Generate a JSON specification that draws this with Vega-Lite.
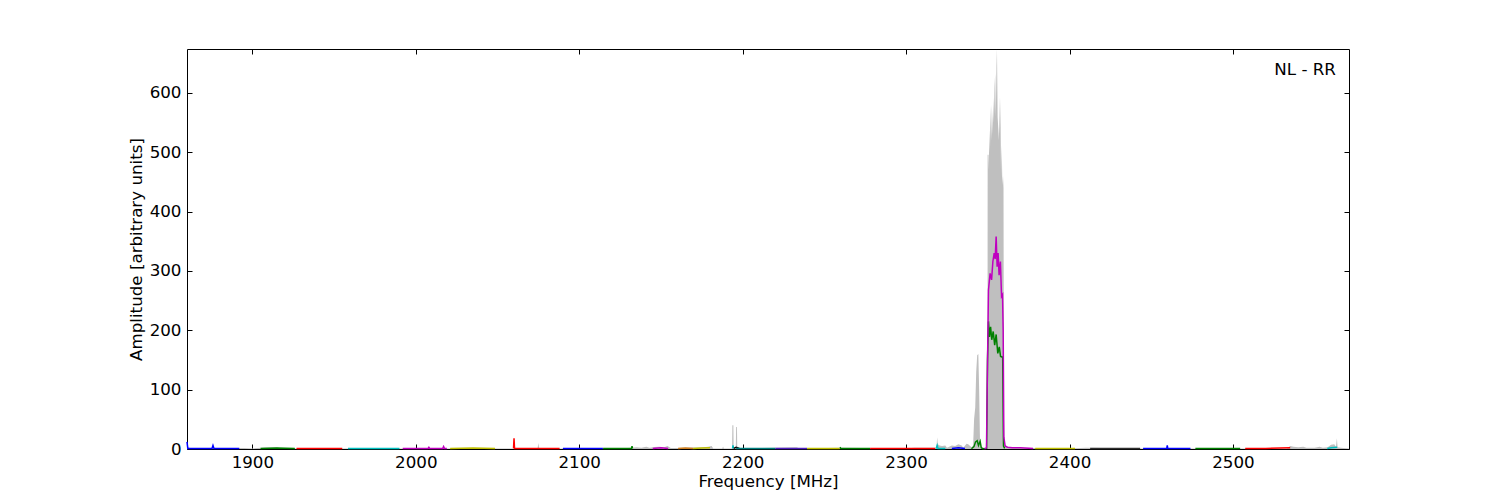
{
  "$schema": "https://vega.github.io/schema/vega-lite/v6.json",
  "autosize": "none",
  "width": 1162,
  "height": 400,
  "padding": {"left": 187, "top": 49, "right": 151, "bottom": 51},
  "background": "white",
  "config": {
    "view": {"stroke": "black", "strokeWidth": 1},
    "font": "DejaVu Sans",
    "axis": {
      "grid": false,
      "domain": false,
      "tickColor": "black",
      "tickSize": -5,
      "tickWidth": 1
    }
  },
  "datasets": {
    "grey": [
      {"f": 1860, "v": 3}, {"f": 1862, "v": 1.5}, {"f": 1895, "v": 1.5}, {"f": 1900, "v": 1}, {"f": 1908, "v": 2.5}, {"f": 1915, "v": 2.5}, {"f": 1918, "v": 1},
      {"f": 1960, "v": 1}, {"f": 2000, "v": 1}, {"f": 2050, "v": 1}, {"f": 2060, "v": 1}, {"f": 2074.5, "v": 1}, {"f": 2075, "v": 10}, {"f": 2075.5, "v": 1},
      {"f": 2100, "v": 1}, {"f": 2125, "v": 1}, {"f": 2132, "v": 2}, {"f": 2135, "v": 3}, {"f": 2138, "v": 2}, {"f": 2141, "v": 4}, {"f": 2143, "v": 2},
      {"f": 2146, "v": 3.5}, {"f": 2149, "v": 4}, {"f": 2152, "v": 3}, {"f": 2154, "v": 5}, {"f": 2156, "v": 1.5}, {"f": 2160, "v": 1.5}, {"f": 2164, "v": 2},
      {"f": 2168, "v": 2.5}, {"f": 2172, "v": 2.5}, {"f": 2176, "v": 3}, {"f": 2179, "v": 4}, {"f": 2181, "v": 5}, {"f": 2182, "v": 1},
      {"f": 2187.5, "v": 1}, {"f": 2188, "v": 4}, {"f": 2188.5, "v": 1}, {"f": 2193.5, "v": 1}, {"f": 2193.7, "v": 40}, {"f": 2194.3, "v": 40}, {"f": 2194.5, "v": 1},
      {"f": 2195.8, "v": 1}, {"f": 2196, "v": 37}, {"f": 2196.5, "v": 37}, {"f": 2196.7, "v": 1}, {"f": 2200, "v": 1}, {"f": 2233, "v": 3}, {"f": 2235, "v": 1},
      {"f": 2260, "v": 2}, {"f": 2300, "v": 1}, {"f": 2305, "v": 2}, {"f": 2310, "v": 2}, {"f": 2318.6, "v": 2}, {"f": 2319, "v": 20}, {"f": 2319.4, "v": 8},
      {"f": 2320.5, "v": 6}, {"f": 2322, "v": 5}, {"f": 2324, "v": 6}, {"f": 2325, "v": 2}, {"f": 2328, "v": 6}, {"f": 2330, "v": 5}, {"f": 2332, "v": 8},
      {"f": 2334, "v": 6}, {"f": 2335, "v": 2}, {"f": 2337, "v": 9}, {"f": 2338, "v": 8}, {"f": 2340, "v": 3}, {"f": 2341, "v": 5}, {"f": 2341.6, "v": 50},
      {"f": 2342.3, "v": 70}, {"f": 2342.9, "v": 130}, {"f": 2343.5, "v": 158}, {"f": 2344.2, "v": 160}, {"f": 2344.7, "v": 100}, {"f": 2345.2, "v": 15},
      {"f": 2346, "v": 3}, {"f": 2349, "v": 1.5}, {"f": 2349.8, "v": 1}, {"f": 2349.9, "v": 496}, {"f": 2350.4, "v": 496}, {"f": 2350.6, "v": 470}, {"f": 2350.9, "v": 538},
      {"f": 2351.3, "v": 500}, {"f": 2351.7, "v": 578}, {"f": 2352.1, "v": 520}, {"f": 2352.5, "v": 580}, {"f": 2352.9, "v": 530}, {"f": 2353.3, "v": 592},
      {"f": 2353.7, "v": 550}, {"f": 2354.1, "v": 610}, {"f": 2354.5, "v": 632}, {"f": 2354.9, "v": 560}, {"f": 2355.3, "v": 645}, {"f": 2355.6, "v": 674},
      {"f": 2356.0, "v": 560}, {"f": 2356.4, "v": 540}, {"f": 2356.8, "v": 520}, {"f": 2357.1, "v": 595}, {"f": 2357.4, "v": 530}, {"f": 2357.7, "v": 592},
      {"f": 2358.1, "v": 460}, {"f": 2358.5, "v": 512}, {"f": 2358.9, "v": 445}, {"f": 2359.3, "v": 460}, {"f": 2359.6, "v": 440}, {"f": 2359.9, "v": 20},
      {"f": 2360.6, "v": 6}, {"f": 2362, "v": 4}, {"f": 2365, "v": 2}, {"f": 2380, "v": 1.5}, {"f": 2400, "v": 1}, {"f": 2410, "v": 2}, {"f": 2440, "v": 1},
      {"f": 2500, "v": 1}, {"f": 2533, "v": 1}, {"f": 2535, "v": 5}, {"f": 2537, "v": 4}, {"f": 2540, "v": 3}, {"f": 2543, "v": 4}, {"f": 2545, "v": 2},
      {"f": 2550, "v": 2}, {"f": 2553, "v": 4}, {"f": 2555, "v": 2}, {"f": 2558, "v": 3}, {"f": 2560, "v": 7}, {"f": 2562, "v": 8}, {"f": 2563, "v": 4},
      {"f": 2563.6, "v": 18}, {"f": 2564, "v": 3}, {"f": 2566, "v": 2}, {"f": 2571, "v": 1}
    ],
    "lines": [
      {"seg": "s01", "f": 1860, "v": 12}, {"seg": "s01", "f": 1860.5, "v": 1}, {"seg": "s01", "f": 1868, "v": 1}, {"seg": "s01", "f": 1875.3, "v": 1}, {"seg": "s01", "f": 1875.9, "v": 6}, {"seg": "s01", "f": 1876.5, "v": 1}, {"seg": "s01", "f": 1885, "v": 1}, {"seg": "s01", "f": 1892, "v": 1},
      {"seg": "s02", "f": 1905, "v": 1}, {"seg": "s02", "f": 1915, "v": 1.5}, {"seg": "s02", "f": 1926, "v": 1},
      {"seg": "s03", "f": 1927, "v": 1}, {"seg": "s03", "f": 1940, "v": 1}, {"seg": "s03", "f": 1955, "v": 1},
      {"seg": "s04", "f": 1958.5, "v": 1}, {"seg": "s04", "f": 1975, "v": 1}, {"seg": "s04", "f": 1990, "v": 1},
      {"seg": "s05", "f": 1992, "v": 1}, {"seg": "s05", "f": 2007.5, "v": 1}, {"seg": "s05", "f": 2008, "v": 3}, {"seg": "s05", "f": 2008.5, "v": 1}, {"seg": "s05", "f": 2016.5, "v": 1}, {"seg": "s05", "f": 2017, "v": 4}, {"seg": "s05", "f": 2017.5, "v": 1}, {"seg": "s05", "f": 2019, "v": 1},
      {"seg": "s06", "f": 2021, "v": 1}, {"seg": "s06", "f": 2035, "v": 1.5}, {"seg": "s06", "f": 2048.5, "v": 1},
      {"seg": "s07", "f": 2059.8, "v": 1}, {"seg": "s07", "f": 2060.1, "v": 18}, {"seg": "s07", "f": 2060.4, "v": 1}, {"seg": "s07", "f": 2075, "v": 1}, {"seg": "s07", "f": 2088, "v": 1},
      {"seg": "s08", "f": 2090, "v": 1}, {"seg": "s08", "f": 2100, "v": 1}, {"seg": "s08", "f": 2114.5, "v": 1},
      {"seg": "s09", "f": 2114.6, "v": 1}, {"seg": "s09", "f": 2125, "v": 1}, {"seg": "s09", "f": 2132, "v": 1}, {"seg": "s09", "f": 2132.3, "v": 5}, {"seg": "s09", "f": 2132.6, "v": 1},
      {"seg": "s10", "f": 2145, "v": 1}, {"seg": "s10", "f": 2150, "v": 2}, {"seg": "s10", "f": 2154.4, "v": 1},
      {"seg": "s11", "f": 2160.5, "v": 1}, {"seg": "s11", "f": 2165, "v": 1.5}, {"seg": "s11", "f": 2169.7, "v": 1},
      {"seg": "s12", "f": 2169.7, "v": 1}, {"seg": "s12", "f": 2175, "v": 1.5}, {"seg": "s12", "f": 2180, "v": 2},
      {"seg": "s13", "f": 2193.8, "v": 1}, {"seg": "s13", "f": 2194.1, "v": 6}, {"seg": "s13", "f": 2194.4, "v": 1},
      {"seg": "s14", "f": 2194.5, "v": 1}, {"seg": "s14", "f": 2196, "v": 3}, {"seg": "s14", "f": 2198, "v": 1},
      {"seg": "s15", "f": 2196, "v": 1}, {"seg": "s15", "f": 2208, "v": 1}, {"seg": "s15", "f": 2220, "v": 1},
      {"seg": "s16", "f": 2220, "v": 1}, {"seg": "s16", "f": 2230, "v": 1}, {"seg": "s16", "f": 2239.4, "v": 1},
      {"seg": "s17", "f": 2239.4, "v": 1}, {"seg": "s17", "f": 2250, "v": 1}, {"seg": "s17", "f": 2259.4, "v": 1},
      {"seg": "s18", "f": 2259.6, "v": 3}, {"seg": "s18", "f": 2260, "v": 1}, {"seg": "s18", "f": 2270, "v": 1}, {"seg": "s18", "f": 2278, "v": 1},
      {"seg": "s19", "f": 2278, "v": 1}, {"seg": "s19", "f": 2295, "v": 1}, {"seg": "s19", "f": 2317.8, "v": 1},
      {"seg": "s20", "f": 2318.4, "v": 1}, {"seg": "s20", "f": 2319, "v": 6}, {"seg": "s20", "f": 2319.5, "v": 1}, {"seg": "s20", "f": 2324, "v": 1},
      {"seg": "s21", "f": 2328, "v": 1}, {"seg": "s21", "f": 2332, "v": 2}, {"seg": "s21", "f": 2336, "v": 1},
      {"seg": "s22", "f": 2340, "v": 0.5}, {"seg": "s22", "f": 2341.5, "v": 4}, {"seg": "s22", "f": 2342.5, "v": 12}, {"seg": "s22", "f": 2343.5, "v": 14}, {"seg": "s22", "f": 2344.3, "v": 6}, {"seg": "s22", "f": 2345.3, "v": 13}, {"seg": "s22", "f": 2346, "v": 2}, {"seg": "s22", "f": 2347, "v": 0.5}, {"seg": "s22", "f": 2349.3, "v": 1}, {"seg": "s22", "f": 2349.8, "v": 150}, {"seg": "s22", "f": 2350.4, "v": 215}, {"seg": "s22", "f": 2351, "v": 189}, {"seg": "s22", "f": 2351.7, "v": 206}, {"seg": "s22", "f": 2352.4, "v": 184}, {"seg": "s22", "f": 2353.3, "v": 198}, {"seg": "s22", "f": 2354.2, "v": 175}, {"seg": "s22", "f": 2355.1, "v": 193}, {"seg": "s22", "f": 2356.1, "v": 161}, {"seg": "s22", "f": 2357, "v": 172}, {"seg": "s22", "f": 2357.8, "v": 156}, {"seg": "s22", "f": 2358.6, "v": 155}, {"seg": "s22", "f": 2359.1, "v": 155}, {"seg": "s22", "f": 2359.6, "v": 5}, {"seg": "s22", "f": 2360.3, "v": 1},
      {"seg": "s23", "f": 2348, "v": 0.5}, {"seg": "s23", "f": 2349.2, "v": 2}, {"seg": "s23", "f": 2349.6, "v": 100}, {"seg": "s23", "f": 2350.4, "v": 268}, {"seg": "s23", "f": 2351.4, "v": 296}, {"seg": "s23", "f": 2352.3, "v": 285}, {"seg": "s23", "f": 2353.1, "v": 316}, {"seg": "s23", "f": 2353.9, "v": 330}, {"seg": "s23", "f": 2354.5, "v": 320}, {"seg": "s23", "f": 2355.1, "v": 358}, {"seg": "s23", "f": 2355.7, "v": 307}, {"seg": "s23", "f": 2356.3, "v": 330}, {"seg": "s23", "f": 2356.9, "v": 293}, {"seg": "s23", "f": 2357.7, "v": 316}, {"seg": "s23", "f": 2358.4, "v": 257}, {"seg": "s23", "f": 2359, "v": 260}, {"seg": "s23", "f": 2359.4, "v": 200}, {"seg": "s23", "f": 2359.8, "v": 20}, {"seg": "s23", "f": 2360.6, "v": 5}, {"seg": "s23", "f": 2362, "v": 3}, {"seg": "s23", "f": 2365, "v": 2}, {"seg": "s23", "f": 2370, "v": 2}, {"seg": "s23", "f": 2377.7, "v": 1},
      {"seg": "s24", "f": 2379, "v": 1}, {"seg": "s24", "f": 2390, "v": 1}, {"seg": "s24", "f": 2403.4, "v": 1},
      {"seg": "s25", "f": 2412.6, "v": 1}, {"seg": "s25", "f": 2428, "v": 1}, {"seg": "s25", "f": 2443.2, "v": 1},
      {"seg": "s26", "f": 2445, "v": 1}, {"seg": "s26", "f": 2459.5, "v": 1}, {"seg": "s26", "f": 2459.8, "v": 6}, {"seg": "s26", "f": 2460.1, "v": 1}, {"seg": "s26", "f": 2474, "v": 1},
      {"seg": "s27", "f": 2477, "v": 1}, {"seg": "s27", "f": 2490, "v": 1}, {"seg": "s27", "f": 2504.4, "v": 1},
      {"seg": "s28", "f": 2507.5, "v": 1}, {"seg": "s28", "f": 2520, "v": 1}, {"seg": "s28", "f": 2535, "v": 2},
      {"seg": "s29", "f": 2557.7, "v": 1}, {"seg": "s29", "f": 2560, "v": 2}, {"seg": "s29", "f": 2563.8, "v": 3}
    ]
  },
  "resolve": {"axis": {"x": "independent", "y": "independent"}},
  "layer": [
    {
      "data": {"name": "grey"},
      "mark": {"type": "area", "color": "#bfbfbf", "interpolate": "linear"},
      "encoding": {
        "x": {
          "field": "f", "type": "quantitative",
          "scale": {"domain": [1860, 2571], "nice": false, "zero": false},
          "axis": {"orient": "bottom", "title": "Frequency [MHz]", "format": "d", "values": [1900, 2000, 2100, 2200, 2300, 2400, 2500], "labelPadding": 10, "titlePadding": 3,
                   "labelFont": "DejaVu Sans", "labelFontSize": 16.7, "labelColor": "black", "titleFont": "DejaVu Sans", "titleFontSize": 16.7, "titleFontWeight": "normal", "titleColor": "black"}
        },
        "y": {
          "field": "v", "type": "quantitative",
          "scale": {"domain": [0, 674], "nice": false},
          "axis": {"orient": "left", "title": "Amplitude [arbitrary units]", "format": "d", "values": [0, 100, 200, 300, 400, 500, 600], "labelPadding": 11, "titlePadding": 4,
                   "labelFont": "DejaVu Sans", "labelFontSize": 16.7, "labelColor": "black", "titleFont": "DejaVu Sans", "titleFontSize": 16.7, "titleFontWeight": "normal", "titleColor": "black"}
        }
      }
    },
    {
      "data": {"name": "lines"},
      "mark": {"type": "line", "strokeWidth": 1.5, "interpolate": "linear"},
      "encoding": {
        "x": {"field": "f", "type": "quantitative", "axis": {"orient": "top", "labels": false, "title": null, "values": [1900, 2000, 2100, 2200, 2300, 2400, 2500]}},
        "y": {"field": "v", "type": "quantitative", "axis": {"orient": "right", "labels": false, "title": null, "values": [0, 100, 200, 300, 400, 500, 600]}},
        "color": {
          "field": "seg", "type": "nominal", "legend": null,
          "scale": {
            "domain": ["s01","s02","s03","s04","s05","s06","s07","s08","s09","s10","s11","s12","s13","s14","s15","s16","s17","s18","s19","s20","s21","s22","s23","s24","s25","s26","s27","s28","s29"],
            "range": ["#0000ff","#008000","#ff0000","#00bfbf","#bf00bf","#bfbf00","#ff0000","#0000ff","#008000","#bf00bf","#d08020","#bfbf00","#00bfbf","#000000","#007f7f","#5020c0","#bfbf00","#008000","#ff0000","#00bfbf","#0000ff","#008000","#bf00bf","#bfbf00","#303030","#0000ff","#008000","#ff0000","#00bfbf"]
          }
        }
      }
    },
    {
      "data": {"values": [{"label": "NL - RR"}]},
      "mark": {"type": "text", "align": "right", "baseline": "middle", "font": "DejaVu Sans", "fontSize": 16.7, "color": "black"},
      "encoding": {
        "x": {"datum": 2563, "type": "quantitative", "axis": null},
        "y": {"datum": 639, "type": "quantitative", "axis": null},
        "text": {"field": "label", "type": "nominal"}
      }
    }
  ]
}
